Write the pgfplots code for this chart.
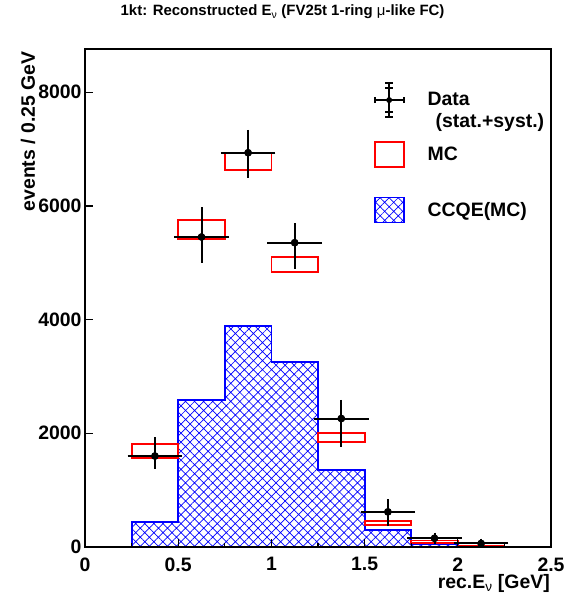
\documentclass[border=0pt]{standalone}
\usepackage{fontspec}
\setmainfont{Liberation Sans}
\usepackage{pgfplots}
\pgfplotsset{compat=1.18}
\usetikzlibrary{patterns.meta}

\begin{document}
\begin{tikzpicture}
\path[use as bounding box] (-85bp,-49bp) rectangle (480bp,547bp);
\begin{axis}[
  at={(0,0)}, anchor=south west,
  width=466bp, height=498bp, scale only axis,
  xmin=0, xmax=2.5, ymin=0, ymax=8760,
  axis line style={line width=1.6bp},
  axis on top,
  xtick={0,0.5,1,1.5,2,2.5},
  minor xtick={0.25,0.75,1.25,1.75,2.25},
  ytick={0,2000,4000,6000,8000},
  tick align=inside, xtick pos=bottom, ytick pos=left,
  major tick length=8bp, minor tick length=4bp,
  tick style={line width=1.2bp, black},
  scaled ticks=false,
  /pgf/number format/1000 sep={},
  /pgf/number format/assume math mode=true,
  ticklabel style={font=\bfseries\fontsize{19.5}{19.5}\selectfont},
  xticklabel style={yshift=-7bp},
  title={1kt: Reconstructed E\textsubscript{\mdseries ν} (FV25t 1-ring {\mdseries μ}-like FC)},
  title style={at={(rel axis cs:0.424,1.062)}, anchor=center, yshift=0pt, font=\bfseries\fontsize{15}{15}\selectfont},
  ylabel={events / 0.25 GeV},
  ylabel style={at={(rel axis cs:-0.122,1.002)}, anchor=east, font=\bfseries\fontsize{19.5}{19.5}\selectfont},
  xlabel={rec.E\textsubscript{\mdseries ν} [GeV]},
  xlabel style={at={(rel axis cs:1,-0.074)}, anchor=east, inner sep=1pt, font=\bfseries\fontsize{19.5}{19.5}\selectfont},
  legend cell align=left,
  legend style={at={(rel axis cs:0.619,0.934)}, anchor=north west, draw=none, fill=none,
    inner sep=0pt, column sep=21bp, row sep=10bp,
    nodes={align=left, inner sep=2pt},
    font=\bfseries\fontsize{19.5}{22}\selectfont},
]
% CCQE (MC) hatched histogram
\addplot[const plot, draw=blue, line width=1.8bp,
  pattern={Hatch[angle=45,distance=6.4bp,line width=0.7bp]}, pattern color=blue, forget plot]
  coordinates {(0,0)(0.25,446)(0.5,2580)(0.75,3893)(1.0,3254)(1.25,1360)(1.5,299)(1.75,50)(2.0,15)(2.25,0)(2.5,0)} \closedcycle;

% MC boxes
\addplot[red, line width=1.8bp, unbounded coords=jump, line cap=rect, forget plot] coordinates {
 (0,0)(0.25,0)
 (0.25,nan)
 (0.25,1560)(0.5,1560)(0.5,1817)(0.25,1817)(0.25,1560)
 (0.5,nan)
 (0.5,5417)(0.75,5417)(0.75,5757)(0.5,5757)(0.5,5417)
 (0.75,nan)
 (0.75,6631)(1.0,6631)(1.0,6930)(0.75,6930)(0.75,6631)
 (1.0,nan)
 (1.0,4831)(1.25,4831)(1.25,5107)(1.0,5107)(1.0,4831)
 (1.25,nan)
 (1.25,1850)(1.5,1850)(1.5,2005)(1.25,2005)(1.25,1850)
 (1.5,nan)
 (1.5,392)(1.75,392)(1.75,452)(1.5,452)(1.5,392)
 (1.75,nan)
 (1.75,75)(2.0,75)(2.0,115)(1.75,115)(1.75,75)
 (2.0,nan)
 (2.0,10)(2.25,10)(2.25,28)(2.0,28)(2.0,10)
};

% Data: total (stat.+syst.) errors
\addplot[black, line width=2bp, only marks, mark=*, mark size=2.7bp, forget plot,
  error bars/.cd, x dir=both, x explicit, y dir=both, y explicit,
  error bar style={line width=2bp, black},
  error mark options={line width=2bp, mark size=4bp, black}]
  coordinates {
  (0.375,1600) += (0.125,258) -= (0.125,155)
  (0.625,5453) += (0.125,451) -= (0.125,382)
  (0.875,6935) += (0.125,330) -= (0.125,372)
  (1.125,5353) += (0.125,270) -= (0.125,387)
  (1.375,2260) += (0.125,258) -= (0.125,422)
  (1.625,618)  += (0.125,148) -= (0.125,182)
  (1.875,153)  += (0.125,30)  -= (0.125,30)
  (2.125,62)   += (0.125,15)  -= (0.125,15)
};
% Data: statistical errors
\addplot[black, line width=2bp, only marks, mark=*, mark size=2.7bp, forget plot,
  error bars/.cd, y dir=both, y explicit,
  error bar style={line width=2bp, black},
  error mark options={line width=2bp, mark size=4bp, black}]
  coordinates {
  (0.375,1600) +- (0,40)
  (0.625,5453) +- (0,75)
  (0.875,6935) +- (0,82)
  (1.125,5353) +- (0,73)
  (1.375,2260) +- (0,48)
  (1.625,618)  +- (0,25)
  (1.875,153)  +- (0,12)
  (2.125,62)   +- (0,8)
};

\addlegendimage{legend image code/.code={
  \draw[black,line width=2bp] (15bp,-6.5bp)--(15bp,27.5bp);
  \draw[black,line width=2bp] (11bp,27.5bp)--(19bp,27.5bp);
  \draw[black,line width=2bp] (11bp,22.5bp)--(19bp,22.5bp);
  \draw[black,line width=2bp] (11bp,-1.5bp)--(19bp,-1.5bp);
  \draw[black,line width=2bp] (11bp,-6.5bp)--(19bp,-6.5bp);
  \draw[black,line width=2bp] (0.5bp,10.5bp)--(29.5bp,10.5bp);
  \draw[black,line width=2bp] (0.5bp,7.5bp)--(0.5bp,13.5bp);
  \draw[black,line width=2bp] (29.5bp,7.5bp)--(29.5bp,13.5bp);
  \fill[black] (15bp,10.5bp) circle (2.7bp);
}}
\addlegendentry{Data\\\hspace*{8bp}(stat.+syst.)}
\addlegendimage{legend image code/.code={
  \draw[red,line width=1.8bp] (0.5bp,-12.5bp) rectangle (29.5bp,12.5bp);
  \path (0bp,-32bp);
}}
\addlegendentry{MC}
\addlegendimage{legend image code/.code={
  \draw[blue,line width=1.8bp,pattern={Hatch[angle=45,distance=6.4bp,line width=0.7bp]},pattern color=blue] (0.5bp,-12.5bp) rectangle (29.5bp,12.5bp);
}}
\addlegendentry{CCQE(MC)}
\end{axis}
\end{tikzpicture}
\end{document}
